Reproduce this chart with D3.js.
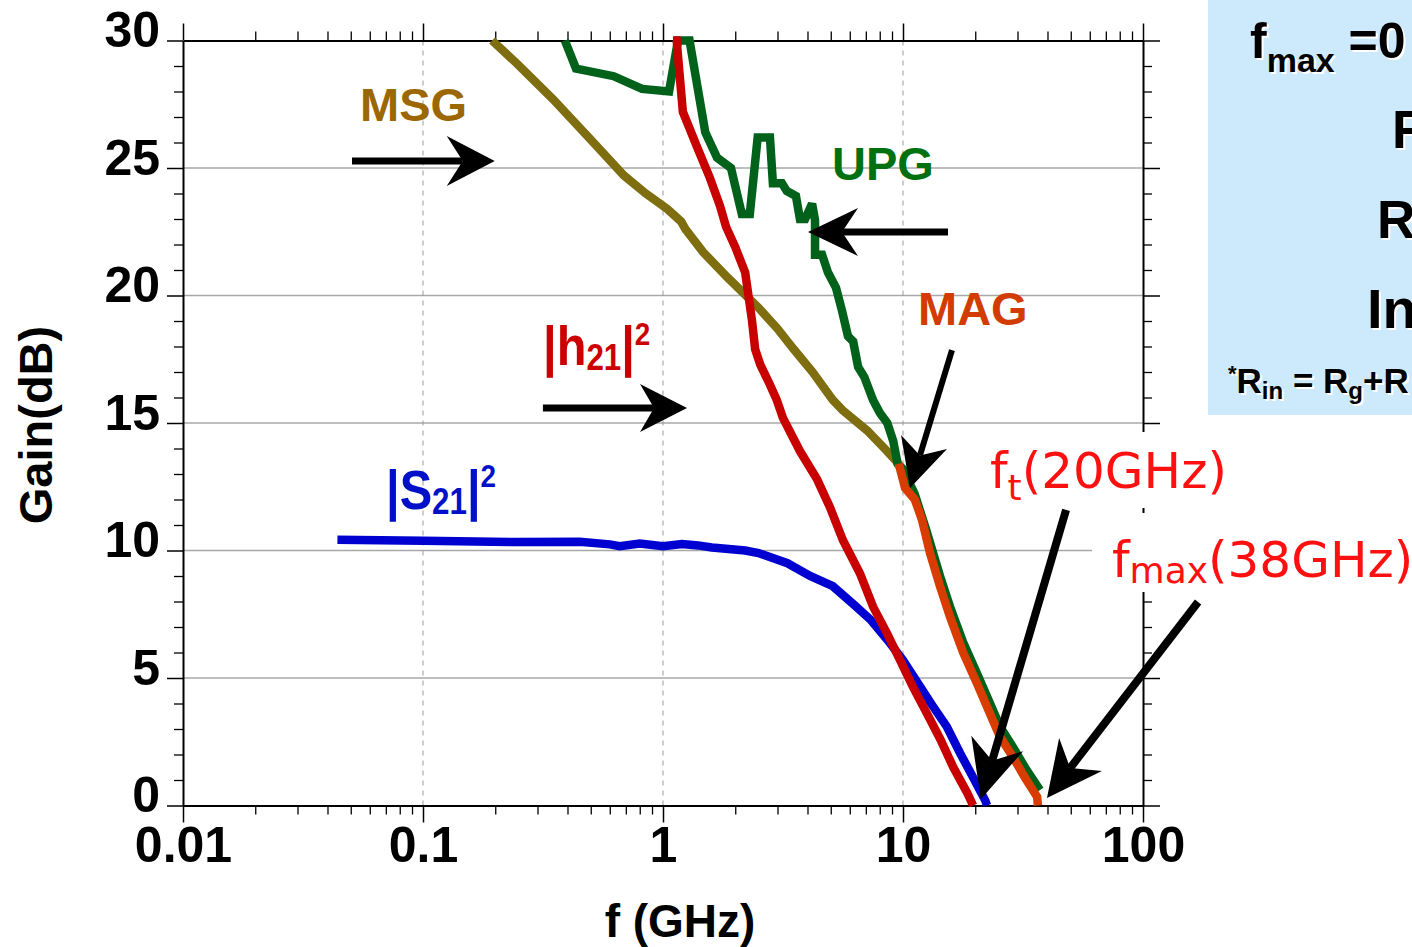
<!DOCTYPE html>
<html><head><meta charset="utf-8">
<script src="https://cdn.jsdelivr.net/npm/d3@7"></script>
<style>body{margin:0;background:#fff}svg{display:block}</style>
</head><body><svg id="c" width="1412" height="947"></svg>
<script>
// ---------- data ----------
const xMajorTicks = [0.01, 0.1, 1, 10, 100];
const xTickLabels = ["0.01", "0.1", "1", "10", "100"];
const yMajorTicks = [0, 5, 10, 15, 20, 25, 30];
const yTickLabels = ["0", "5", "10", "15", "20", "25", "30"];

// [frequency GHz, gain dB]
const s21 = [[0.044,10.42],[0.1,10.38],[0.25,10.33],[0.45,10.34],[0.6,10.24],[0.66,10.17],[0.8,10.27],[1.0,10.17],[1.2,10.25],[1.4,10.2],[1.6,10.12],[2.2,10.0],[2.5,9.9],[3.3,9.5],[4.1,9.0],[5.1,8.6],[6.2,7.9],[7.3,7.3],[8.6,6.5],[10,5.7],[11.8,4.65],[13.3,3.9],[15.2,3.1],[17.3,2.05],[19.6,1.1],[22.0,0.2],[22.4,0]];
const h21 = [[1.10,30],[1.14,30],[1.21,27.2],[1.39,25.8],[1.57,24.6],[1.73,23.5],[1.83,22.7],[2.0,21.9],[2.2,20.9],[2.35,19.0],[2.42,17.9],[2.54,17.3],[2.79,16.5],[2.98,15.9],[3.16,15.2],[3.72,13.9],[4.38,12.8],[4.96,11.7],[5.62,10.4],[6.62,9.1],[7.5,7.8],[8.58,6.75],[9.72,5.7],[11.0,4.65],[12.6,3.6],[14.3,2.6],[16.2,1.5],[18.5,0.5],[19.6,0]];
const msg = [[0.194,30],[0.246,29.1],[0.348,27.7],[0.49,26.2],[0.688,24.7],[0.847,24.0],[1.04,23.4],[1.19,22.9],[1.24,22.6],[1.47,21.7],[1.86,20.7],[2.51,19.5],[3.0,18.7],[3.5,17.9],[4.2,17.0],[5.1,15.9],[5.6,15.5],[7.1,14.7],[8.58,13.9],[9.6,13.4]];
const upg = [[0.39,30],[0.434,28.9],[0.623,28.6],[0.818,28.1],[1.06,28.0],[1.155,30],[1.29,30],[1.5,26.4],[1.68,25.4],[1.92,25.0],[2.13,23.2],[2.30,23.2],[2.48,26.2],[2.79,26.2],[2.87,24.4],[3.13,24.4],[3.28,24.1],[3.58,23.9],[3.72,23.0],[3.91,23.0],[4.18,23.6],[4.30,22.95],[4.30,21.6],[4.60,21.6],[4.87,20.9],[5.26,20.3],[5.57,19.4],[5.9,18.4],[6.2,18.2],[6.5,17.2],[6.9,16.8],[7.5,15.9],[8.0,15.4],[8.6,15.0],[9.1,14.3],[9.5,13.4],[10,13.2],[11.2,12.2],[12.5,10.8],[14.26,9.0],[15.7,7.8],[17.8,6.4],[20.3,5.2],[23.05,4.0],[25.35,3.1],[28.7,2.3],[32.2,1.5],[37.2,0.6]];
const mag = [[9.6,13.4],[10.2,12.45],[11.2,12.0],[12.0,11.2],[12.96,9.9],[14.26,8.6],[15.7,7.4],[17.8,6.0],[20.3,4.8],[23.05,3.6],[25.35,2.7],[28.7,1.9],[32.2,1.1],[36.2,0.34],[36.5,0]];

// annotation arrows: [from f, from dB, to f, to dB]
const arrows = [
  [0.0506,25.27, 0.199,25.27],
  [15.4,22.49, 4.02,22.49],
  [0.316,15.59, 1.259,15.59],
  [16.0,17.86, 10.7,12.45],
  [47.8,11.59, 21.1,0.25],
  [169.6,7.98, 39.8,0.29]
];

// ---------- setup ----------
const svg = d3.select("#c");
const x = d3.scaleLog().domain([0.01, 100]).range([183, 1143]);
const y = d3.scaleLinear().domain([0, 30]).range([805.5, 40.5]);
const FONT = "'Liberation Sans', Arial, Helvetica, sans-serif";

const minorX = [];
[-2,-1,0,1].forEach(k => { for (let m = 2; m <= 9; m++) minorX.push(m * Math.pow(10, k)); });
const minorY = d3.range(0, 31).filter(v => v % 5 !== 0);

// grid
svg.append("g").selectAll("line").data(yMajorTicks.filter(v => v > 0 && v < 30)).join("line")
  .attr("x1", x(0.01)).attr("x2", x(100)).attr("y1", d => y(d)).attr("y2", d => y(d))
  .attr("stroke", "#a8a8a8").attr("stroke-width", 1.3);
svg.append("g").selectAll("line").data([0.1, 1, 10]).join("line")
  .attr("x1", d => x(d)).attr("x2", d => x(d)).attr("y1", y(0)).attr("y2", y(30))
  .attr("stroke", "#9a9a9a").attr("stroke-width", 1).attr("stroke-dasharray", "5,5");

function styleAxis(g) {
  g.select(".domain").attr("stroke", "#000").attr("stroke-width", 2);
  g.selectAll(".tick line").attr("stroke", "#000").attr("stroke-width", 1.5);
}

// bottom
const gb = svg.append("g").attr("transform", `translate(0,${y(0)})`)
  .call(d3.axisBottom(x).tickValues(xMajorTicks).tickSize(17).tickSizeOuter(0).tickPadding(4)
    .tickFormat((d, i) => xTickLabels[i]));
styleAxis(gb);
gb.selectAll("text").attr("font-family", FONT).attr("font-weight", "bold").attr("font-size", 50).attr("fill", "#000");
svg.append("g").attr("transform", `translate(0,${y(0)})`)
  .call(d3.axisBottom(x).tickValues(minorX).tickSize(9).tickSizeOuter(0).tickFormat(""))
  .call(g => { g.select(".domain").remove(); g.selectAll(".tick line").attr("stroke", "#000").attr("stroke-width", 1.3); });
// top
const gt = svg.append("g").attr("transform", `translate(0,${y(30)})`)
  .call(d3.axisTop(x).tickValues(xMajorTicks).tickSize(17).tickSizeOuter(0).tickFormat(""));
styleAxis(gt);
svg.append("g").attr("transform", `translate(0,${y(30)})`)
  .call(d3.axisTop(x).tickValues(minorX).tickSize(9).tickSizeOuter(0).tickFormat(""))
  .call(g => { g.select(".domain").remove(); g.selectAll(".tick line").attr("stroke", "#000").attr("stroke-width", 1.3); });
// left
const gl = svg.append("g").attr("transform", `translate(${x(0.01)},0)`)
  .call(d3.axisLeft(y).tickValues(yMajorTicks).tickSize(16).tickSizeOuter(0).tickPadding(7)
    .tickFormat((d, i) => yTickLabels[i]));
styleAxis(gl);
gl.selectAll("text").attr("font-family", FONT).attr("font-weight", "bold").attr("font-size", 50)
  .attr("fill", "#000").attr("dy", "0.12em");
svg.append("g").attr("transform", `translate(${x(0.01)},0)`)
  .call(d3.axisLeft(y).tickValues(minorY).tickSize(9).tickSizeOuter(0).tickFormat(""))
  .call(g => { g.select(".domain").remove(); g.selectAll(".tick line").attr("stroke", "#000").attr("stroke-width", 1.3); });
// right
const gr = svg.append("g").attr("transform", `translate(${x(100)},0)`)
  .call(d3.axisRight(y).tickValues(yMajorTicks).tickSize(17).tickSizeOuter(0).tickFormat(""));
styleAxis(gr);
svg.append("g").attr("transform", `translate(${x(100)},0)`)
  .call(d3.axisRight(y).tickValues(minorY).tickSize(9).tickSizeOuter(0).tickFormat(""))
  .call(g => { g.select(".domain").remove(); g.selectAll(".tick line").attr("stroke", "#000").attr("stroke-width", 1.3); });

// axis titles
svg.append("text").attr("x", 680).attr("y", 937).attr("text-anchor", "middle")
  .attr("font-family", FONT).attr("font-weight", "bold").attr("font-size", 46).text("f (GHz)");
svg.append("text").attr("transform", "translate(52,425) rotate(-90)").attr("text-anchor", "middle")
  .attr("font-family", FONT).attr("font-weight", "bold").attr("font-size", 47).text("Gain(dB)");

// curves
const line = d3.line().x(d => x(d[0])).y(d => y(d[1]));
const series = [
  [s21, "#0000d0"],
  [msg, "#7f6e10"],
  [upg, "#00621a"],
  [h21, "#c80000"],
  [mag, "#d83c00"]
];
svg.append("g").selectAll("path").data(series).join("path")
  .attr("d", d => line(d[0])).attr("fill", "none").attr("stroke", d => d[1])
  .attr("stroke-width", 8.5).attr("stroke-linejoin", "miter").attr("stroke-miterlimit", 3);

// white label boxes for ft / fmax
svg.append("rect").attr("x", 985).attr("y", 432).attr("width", 250).attr("height", 76).attr("fill", "#fff");
svg.append("rect").attr("x", 1092).attr("y", 513).attr("width", 320).attr("height", 79).attr("fill", "#fff");

// labels
function label(xp, yp, parts, color, scaleX) {
  const t = svg.append("text")
    .attr("transform", `translate(${xp},${yp}) scale(${scaleX || 1},1)`)
    .attr("font-family", parts.family || FONT).attr("font-weight", parts.weight || "bold").attr("fill", color);
  parts.spans.forEach(p => t.append("tspan").attr("font-size", p[1]).attr("dy", p[2] || 0).text(p[0]));
  return t;
}
label(360, 121, {spans: [["MSG", 47]]}, "#9c6600");
label(832, 180, {spans: [["UPG", 47]]}, "#007010");
label(918, 325, {spans: [["MAG", 47]]}, "#d23c00");
label(543, 365, {spans: [["|h", 56], ["21", 36, 5], ["|", 56, -5], ["2", 32, -20]]}, "#cc0000", 0.87);
label(386, 509, {spans: [["|S", 56], ["21", 36, 5], ["|", 56, -5], ["2", 32, -22]]}, "#0010c8", 0.87);
label(990, 488, {family: "'DejaVu Sans', Verdana, sans-serif", weight: "normal",
  spans: [["f", 50], ["t", 36, 12], ["(20GHz)", 50, -12]]}, "#ff1010");
label(1112, 577, {family: "'DejaVu Sans', Verdana, sans-serif", weight: "normal",
  spans: [["f", 50], ["max", 36, 6], ["(38GHz)", 50, -6]]}, "#ff1010");

// arrows
function arrow(a, opt) {
  const x0 = x(a[0]), y0 = y(a[1]), x1 = x(a[2]), y1 = y(a[3]);
  const L = opt.L, W = opt.W, N = opt.N, sw = opt.sw;
  const len = Math.hypot(x1 - x0, y1 - y0), ux = (x1 - x0) / len, uy = (y1 - y0) / len;
  const px = -uy, py = ux;
  const bx = x1 - ux * L, by = y1 - uy * L;
  const nx = x1 - ux * (L - N), ny = y1 - uy * (L - N);
  svg.append("line").attr("x1", x0).attr("y1", y0).attr("x2", nx).attr("y2", ny)
    .attr("stroke", "#000").attr("stroke-width", sw);
  svg.append("path").attr("d", `M${x1},${y1}L${bx + px * W},${by + py * W}L${nx},${ny}L${bx - px * W},${by - py * W}Z`)
    .attr("fill", "#000");
}
const arrowOpts = [
  {L: 48, W: 25, N: 16, sw: 7},
  {L: 50, W: 24, N: 16, sw: 7},
  {L: 47, W: 24, N: 14, sw: 7},
  {L: 48, W: 24, N: 14, sw: 6},
  {L: 58, W: 27, N: 18, sw: 8},
  {L: 55, W: 27, N: 17, sw: 8}
];
arrows.forEach((a, i) => arrow(a, arrowOpts[i]));

// right info panel
svg.append("rect").attr("x", 1208).attr("y", 0).attr("width", 204).attr("height", 415).attr("fill", "#cdeafc");
function ptext(xp, yp, spans) {
  [["#ffffff", 2], ["#000000", 0]].forEach(([c, o]) => {
    const t = svg.append("text").attr("x", xp + o).attr("y", yp + o)
      .attr("font-family", FONT).attr("font-weight", "bold").attr("fill", c);
    spans.forEach(p => t.append("tspan").attr("font-size", p[1]).attr("dy", p[2] || 0).text(p[0]));
  });
}
ptext(1250, 58, [["f", 50], ["max", 34, 14], [" =0", 50, -14]]);
ptext(1392, 148, [["R", 53]]);
ptext(1377, 238, [["R", 53]]);
ptext(1367, 328, [["In", 56]]);
ptext(1228, 393, [["*", 22, -12], ["R", 35, 12], ["in", 24, 6], [" = R", 35, -6], ["g", 24, 6], ["+R", 35, -6]]);
</script>
</body></html>
